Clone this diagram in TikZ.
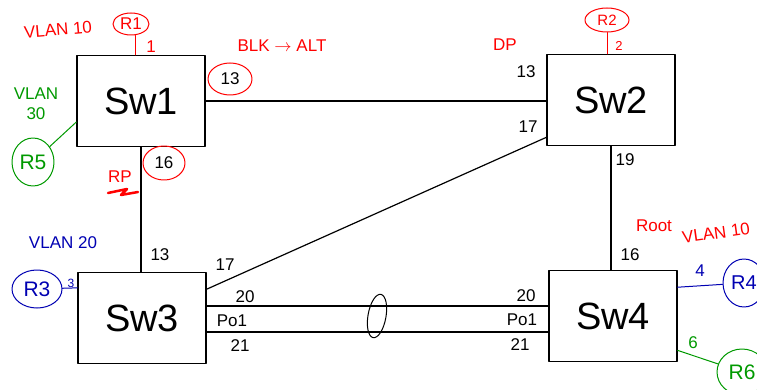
\documentclass[tikz,border=0pt]{standalone}
\usepackage{fontspec}
\setmainfont{Liberation Sans}
\usepackage{tikz}
\usetikzlibrary{shapes.geometric}

\begin{document}
\begin{tikzpicture}[
						x=1pt, y=-1pt,
						line cap=round,
						line join=round,
						switch/.style={draw, line width=1.3pt, minimum width=128pt, minimum height=91pt, inner sep=0pt, font=\fontsize{38}{40}\selectfont},
						router/.style={draw, ellipse, line width=1pt, inner sep=0pt, font=\fontsize{17}{18}\selectfont},
						port/.style={font=\fontsize{17}{18}\selectfont, inner sep=1pt},
						note/.style={font=\fontsize{17}{20}\selectfont, inner sep=1pt},
						link/.style={line width=1.2pt}
						]
						
						\useasboundingbox (0,0) rectangle (757,390);
						
						% switches
						\node[switch] (sw1) at (141,101) {Sw1};
						\node[switch] (sw2) at (611,100) {Sw2};
						\node[switch] (sw3) at (142,318) {Sw3};
						\node[switch] (sw4) at (613,316) {Sw4};
						
						% links between switches
						\draw[link] (sw1.east) -- (sw1.east -| sw2.west);
						\draw[link] (sw1.south) -- (sw1.south |- sw3.north);
						\draw[link] (sw2.south) -- (sw2.south |- sw4.north);
						\draw[link] (sw3.24) -- (sw2.210);
						\draw[link] ([yshift=12pt]sw3.east) -- ([yshift=12pt]sw3.east -| sw4.west);
						\draw[link] ([yshift=-14pt]sw3.east) -- ([yshift=-14pt]sw3.east -| sw4.west);
						\node[draw, ellipse, line width=1pt, minimum width=18pt, minimum height=44pt, rotate=-10] (po) at (377,316) {};
						
						% port numbers
						\node[port] (p13a) at (526,72) {13};
						\node[port] (p17a) at (528,127) {17};
						\node[port] (p19) at (625,160) {19};
						\node[port] (p13b) at (160,255) {13};
						\node[port] (p17b) at (225,265) {17};
						\node[port] (p20a) at (245,297) {20};
						\node[port] (po1a) at (232,321) {Po1};
						\node[port] (p21a) at (240,346) {21};
						\node[port] (p20b) at (526,296) {20};
						\node[port] (po1b) at (522,320) {Po1};
						\node[port] (p21b) at (520,345) {21};
						\node[port] (p16b) at (630,255) {16};
						\node[router, red, minimum width=44pt, minimum height=32pt, text=black] (p13c) at (230,79) {13};
						\node[router, red, minimum width=42pt, minimum height=34pt, text=black] (p16a) at (164,163) {16};
						
						% red notes
						\node[note, red, rotate=5] (vlan10a) at (58,30) {VLAN 10};
						\node[note, red] (blk) at (282,46) {BLK $\rightarrow$ ALT};
						\node[note, red] (dp) at (505,45) {DP};
						\node[note, red] (rp) at (120,177) {RP};
						\draw[red, line width=2.5pt] (108,193) -- (127,189) -- (121,195) -- (138,192);
						\node[note, red] (root) at (654,226) {Root};
						\node[note, red, rotate=8] (vlan10b) at (716,233) {VLAN 10};
						
						% routers
						\node[router, red, minimum width=36pt, minimum height=22pt] (r1) at (131,24) {R1};
						\draw[red, line width=1pt] (r1.south -| 135,0) -- (sw1.north -| 135,0);
						\node[port, red] (n1) at (151,47) {1};
						
						\node[router, red, minimum width=44pt, minimum height=24pt, font=\fontsize{15}{16}\selectfont] (r2) at (607,20) {R2};
						\draw[red, line width=1pt] (r2.south) -- (r2.south |- sw2.north);
						\node[port, red, font=\fontsize{13}{14}\selectfont] (n2) at (619,46) {2};
						
						\node[note, green!60!black, align=center] (vlan30) at (36,104) {VLAN\\30};
						\node[router, green!60!black, minimum width=42pt, minimum height=48pt, font=\fontsize{21}{22}\selectfont] (r5) at (33,162) {R5};
						\draw[green!60!black, line width=1pt] (r5) -- (sw1.198);
						
						\node[note, blue!70!black] (vlan20) at (63,243) {VLAN 20};
						\node[router, blue!70!black, minimum width=50pt, minimum height=38pt, font=\fontsize{21}{22}\selectfont] (r3) at (37,289) {R3};
						\draw[blue!70!black, line width=1pt] (r3) -- (sw3.155);
						\node[port, blue!70!black, font=\fontsize{12}{13}\selectfont] (n3) at (71,283) {3};
						
						\node[router, blue!70!black, minimum width=42pt, minimum height=48pt, font=\fontsize{20}{21}\selectfont] (r4) at (744,283) {R4};
						\draw[blue!70!black, line width=1pt] (sw4.24) -- (r4);
						\node[port, blue!70!black] (n4) at (700,271) {4};
						
						\node[router, green!60!black, minimum width=50pt, minimum height=46pt, font=\fontsize{21}{22}\selectfont] (r6) at (742,372) {R6};
						\draw[green!60!black, line width=1pt] (sw4.-28) -- (r6);
						\node[port, green!60!black] (n6) at (693,343) {6};
						
					\end{tikzpicture}
\end{document}
